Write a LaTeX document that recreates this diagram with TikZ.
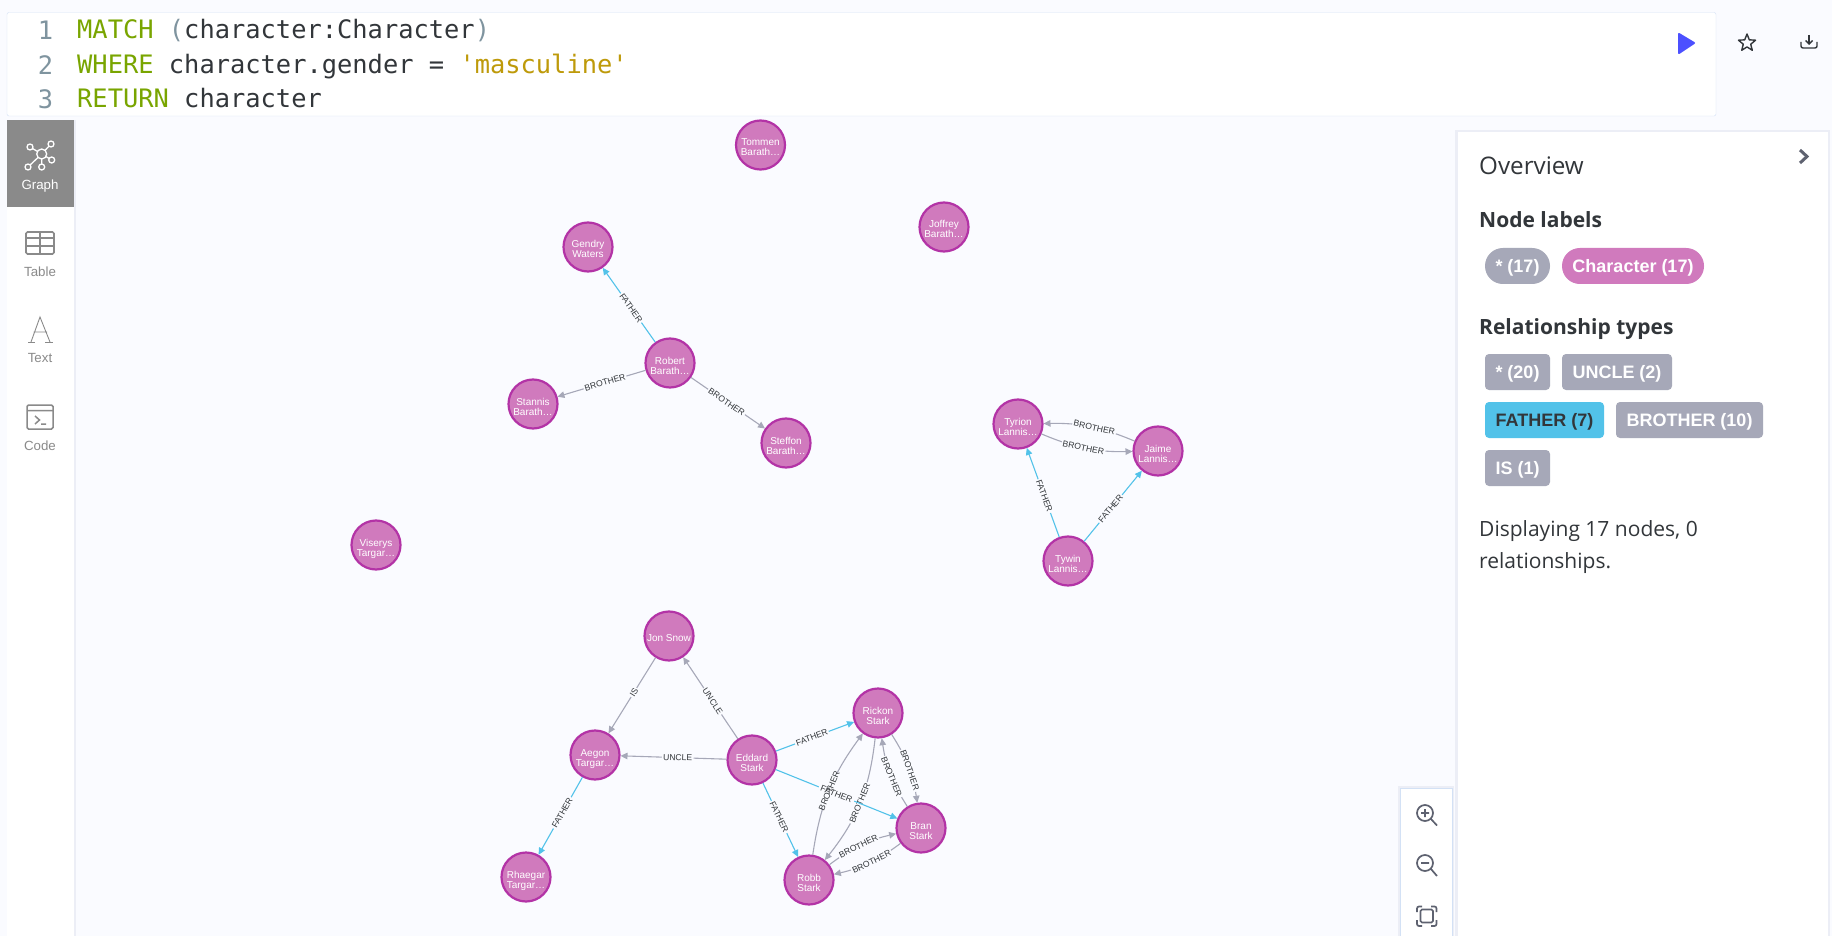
\documentclass[tikz,border=0pt]{standalone}
\usepackage{fontspec}
\setmainfont{Liberation Sans}
\newfontfamily\codefont{DejaVu Sans Mono}
\newfontfamily\panelfont{Open Sans}
\usetikzlibrary{arrows.meta,shapes.geometric}
\definecolor{pageBg}{HTML}{FAFBFF}
\definecolor{nodeFill}{HTML}{D07ABD}
\definecolor{nodeLine}{HTML}{B333A6}
\definecolor{fatherBlue}{HTML}{52C2E9}
\definecolor{relGrey}{HTML}{A6A8B8}
\definecolor{navGrey}{HTML}{8A8A8A}
\definecolor{frameBlue}{HTML}{D3E1F5}
\definecolor{shadowGrey}{HTML}{ECEEF6}
\definecolor{keyGreen}{HTML}{79A500}
\definecolor{stringGold}{HTML}{BE9A0A}
\definecolor{lineNum}{HTML}{7F949F}
\definecolor{inkDark}{HTML}{32363A}
\definecolor{iconGrey}{HTML}{5E6270}
\definecolor{playBlue}{HTML}{4C50FF}
\tikzstyle{charNode} = [draw=nodeLine,fill=nodeFill,circle,line width=2.2pt,minimum size=49pt,inner sep=0pt,outer sep=1pt,text=white,align=center,text height=22pt,text depth=0pt,font=\fontsize{10}{10}\selectfont]
\tikzstyle{fatherArrow} = [fatherBlue,line width=1.1pt,-{Triangle[length=7pt,width=6.5pt]}]
\tikzstyle{greyArrow} = [relGrey,line width=1.1pt,-{Triangle[length=7pt,width=6.5pt]}]
\tikzstyle{edgeLabel} = [sloped,fill=pageBg,inner sep=1.2pt,text=inkDark,font=\fontsize{8.6}{8.6}\selectfont]
\tikzstyle{edgeText} = [edgeLabel,fill=none]
\tikzstyle{edgeGap} = [sloped,fill=pageBg,inner sep=0pt,minimum width=38pt,minimum height=8pt]
\tikzstyle{codeLine} = [anchor=base west,inner sep=0pt,text=inkDark,font=\codefont\fontsize{25.4}{26}\selectfont]
\tikzstyle{numLine} = [anchor=base,inner sep=0pt,text=lineNum,font=\codefont\fontsize{25.4}{26}\selectfont]
\tikzstyle{navLabel} = [inner sep=0pt,text=navGrey,font=\fontsize{13.3}{14}\selectfont]
\tikzstyle{panelHead} = [anchor=base west,inner sep=0pt,text=inkDark,font=\panelfont\bfseries\fontsize{21}{21}\selectfont]
\tikzstyle{panelText} = [anchor=base west,inner sep=0pt,text=inkDark,font=\panelfont\fontsize{21}{21}\selectfont]
\tikzstyle{badge} = [fill=relGrey,minimum height=36pt,inner sep=0pt,text=white,text height=13pt,text depth=0pt,font=\bfseries\fontsize{18}{18}\selectfont]
\tikzstyle{pillBadge} = [badge,rounded corners=17.9pt]
\tikzstyle{typeBadge} = [badge,rounded corners=4pt]
\begin{document}
\begin{tikzpicture}[x=1pt,y=-1pt]
		\useasboundingbox (0,0) rectangle (1832,936);
		\fill[pageBg] (0,0) rectangle (1832,936);
		
		% editor
		\draw[frameBlue,fill=white,rounded corners=2pt] (7,12.5) rectangle (1716,116);
		\node[numLine] (num1) at (45.5,40) {1};
		\node[numLine] (num2) at (45.5,75) {2};
		\node[numLine] (num3) at (45.5,109) {3};
		\node[codeLine] (code1) at (77,39) {\textcolor{keyGreen}{MATCH} \textcolor{lineNum}{(}character:Character\textcolor{lineNum}{)}};
		\node[codeLine] (code2) at (77,74) {\textcolor{keyGreen}{WHERE} character.gender = \textcolor{stringGold}{'masculine'}};
		\node[codeLine] (code3) at (77,108) {\textcolor{keyGreen}{RETURN} character};
		\fill[playBlue,draw=playBlue,line width=2pt,line join=round] (1679,34) -- (1694,43) -- (1679,53) -- cycle;
		\node[star,star points=5,star point ratio=2.3,draw=inkDark,line width=1.4pt,line join=round,minimum size=18pt,inner sep=0pt] (fav) at (1747,43) {};
		\draw[inkDark,line width=1.4pt,-{Straight Barb[length=3.5pt,width=7pt]}] (1809,35) -- (1809,45);
		\draw[inkDark,line width=1.4pt,rounded corners=2pt] (1801,42) -- (1801,48) -- (1817,48) -- (1817,42);
		
		% side bar
		\fill[shadowGrey] (7,120) rectangle (76,936);
		\fill[white] (7,120) rectangle (74,936);
		\fill[navGrey] (7,120) rectangle (74,207);
		\draw[white,line width=1.3pt] (41.7,154) -- (30,147) (41.7,154) -- (51,144) (41.7,154) -- (51.7,160) (41.7,154) -- (41.7,167) (41.7,154) -- (28,167);
		\draw[white,line width=1.3pt,fill=navGrey] (41.7,154) circle (5pt) (30,147) circle (3pt) (51,144) circle (3pt) (51.7,160) circle (3pt) (41.7,167) circle (3pt) (28,167) circle (3pt);
		\node[navLabel,text=white] (graph) at (40,186) {Graph};
		\draw[navGrey,line width=1.6pt,rounded corners=1.5pt] (26,232) rectangle (54,254);
		\draw[navGrey,line width=1.6pt] (26,238) -- (54,238) (26,246) -- (54,246) (40,232) -- (40,254);
		\node[navLabel] (table) at (40,272) {Table};
		\draw[navGrey,line width=0.9pt] (31,342) -- (40,317) -- (50,342) (33.5,332) -- (47,332);
		\draw[navGrey,line width=0.9pt] (28,342) -- (35,342) (45,342) -- (53,342);
		\node[navLabel] (text) at (40,358) {Text};
		\draw[navGrey,line width=1.5pt,rounded corners=1.5pt] (27,405) rectangle (53,429);
		\draw[navGrey,line width=1.5pt] (27,410.5) -- (53,410.5) (35,416) -- (39.5,420) -- (35,424) (41,424) -- (46,424);
		\node[navLabel] (code) at (40,446) {Code};
		
		% overview panel
		\fill[shadowGrey] (1455,130) rectangle (1830,936);
		\fill[white] (1458,132) rectangle (1828,936);
		\node[panelText,font=\panelfont\fontsize{24.2}{24}\selectfont] (over) at (1479,175) {Overview};
		\draw[iconGrey,line width=3pt] (1800,150) -- (1807,156.5) -- (1800,163);
		\node[panelHead] (nodeHead) at (1479,228) {Node labels};
		\node[pillBadge,minimum width=65pt] (allNodes) at (1517.5,266) {* (17)};
		\node[pillBadge,minimum width=142pt,fill=nodeFill] (charBadge) at (1633,266) {Character (17)};
		\node[panelHead] (relHead) at (1479,334) {Relationship types};
		\node[typeBadge,minimum width=65pt] (allRel) at (1517.5,372) {* (20)};
		\node[typeBadge,minimum width=110pt] (uncleBadge) at (1617,372) {UNCLE (2)};
		\node[typeBadge,minimum width=119pt,fill=fatherBlue,text=inkDark] (fatherBadge) at (1544.5,420) {FATHER (7)};
		\node[typeBadge,minimum width=147pt] (brotherBadge) at (1689.5,420) {BROTHER (10)};
		\node[typeBadge,minimum width=65pt] (isBadge) at (1517.5,468) {IS (1)};
		\node[panelText] (disp1) at (1479,536) {Displaying 17 nodes, 0};
		\node[panelText] (disp2) at (1479,568) {relationships.};
		
		% zoom buttons
		\fill[shadowGrey] (1398,786) rectangle (1454,936);
		\draw[frameBlue,fill=white] (1400.5,788.5) rectangle (1452,940);
		\draw[iconGrey,line width=1.7pt] (1425,813) circle (8pt) (1431,819) -- (1437,825.5) (1421,813) -- (1429,813) (1425,809) -- (1425,817);
		\draw[iconGrey,line width=1.7pt] (1425,863) circle (8pt) (1431,869) -- (1437,876) (1421,863) -- (1429,863);
		\draw[iconGrey,line width=1.7pt,rounded corners=1.5pt] (1420.5,909.5) rectangle (1433,922.5);
		\draw[iconGrey,line width=1.7pt,rounded corners=2pt] (1417,912) -- (1417,906.5) -- (1422,906.5) (1431,906.5) -- (1436.5,906.5) -- (1436.5,912) (1436.5,920) -- (1436.5,926) -- (1431,926) (1422,926) -- (1417,926) -- (1417,920);
		
		% nodes
		\node[charNode] (tommen) at (760.5,145) {Tommen\\Barath…};
		\node[charNode] (joffrey) at (944,227) {Joffrey\\Barath…};
		\node[charNode] (gendry) at (588,247) {Gendry\\Waters};
		\node[charNode] (robert) at (670,363) {Robert\\Barath…};
		\node[charNode] (stannis) at (533,404) {Stannis\\Barath…};
		\node[charNode] (steffon) at (786,443) {Steffon\\Barath…};
		\node[charNode] (viserys) at (376,545) {Viserys\\Targar…};
		\node[charNode] (tyrion) at (1018,424) {Tyrion\\Lannis…};
		\node[charNode] (jaime) at (1158,451) {Jaime\\Lannis…};
		\node[charNode] (tywin) at (1068,561) {Tywin\\Lannis…};
		\node[charNode,text height=10pt] (jon) at (669,636) {Jon Snow};
		\node[charNode] (aegon) at (595,755) {Aegon\\Targar…};
		\node[charNode] (eddard) at (752,760) {Eddard\\Stark};
		\node[charNode] (rhaegar) at (526,877) {Rhaegar\\Targar…};
		\node[charNode] (rickon) at (878,713) {Rickon\\Stark};
		\node[charNode] (bran) at (921,828) {Bran\\Stark};
		\node[charNode] (robb) at (809,880) {Robb\\Stark};
		
		% 1st pass: draw arrows
		\draw[fatherArrow] (robert) to node[edgeLabel,pos=0.46] {FATHER} (gendry);
		\draw[greyArrow] (robert) to node[edgeLabel,pos=0.46] {BROTHER} (stannis);
		\draw[greyArrow] (robert) to node[edgeLabel,pos=0.48] {BROTHER} (steffon);
		\draw[greyArrow] (jaime) to[bend right=12] node[edgeLabel,pos=0.45] {BROTHER} (tyrion);
		\draw[greyArrow] (tyrion) to[bend right=12] node[edgeLabel,pos=0.47] {BROTHER} (jaime);
		\draw[fatherArrow] (tywin) to node[edgeLabel,pos=0.46] {FATHER} (tyrion);
		\draw[fatherArrow] (tywin) to node[edgeLabel,pos=0.46] {FATHER} (jaime);
		\draw[greyArrow] (jon) to node[edgeLabel,pos=0.46] {IS} (aegon);
		\draw[greyArrow] (eddard) to node[edgeLabel,pos=0.46] {UNCLE} (jon);
		\draw[greyArrow] (eddard) to node[edgeLabel,pos=0.46] {UNCLE} (aegon);
		\draw[fatherArrow] (aegon) to node[edgeLabel,pos=0.46] {FATHER} (rhaegar);
		\draw[fatherArrow] (eddard) to node[edgeLabel,pos=0.46] {FATHER} (rickon);
		\draw[fatherArrow] (eddard) to node[edgeLabel,pos=0.46] {FATHER} (robb);
		\draw[greyArrow] (rickon) to[bend left=16] node[edgeLabel] {BROTHER} (robb);
		\draw[greyArrow] (rickon) to[bend left=12] node[edgeLabel,pos=0.55] {BROTHER} (bran);
		\draw[greyArrow] (bran) to[bend left=12] node[edgeLabel,pos=0.45] {BROTHER} (rickon);
		\draw[greyArrow] (robb) to[bend left=12] node[edgeLabel,pos=0.46] {BROTHER} (bran);
		\draw[greyArrow] (bran) to[bend left=12] node[edgeLabel,pos=0.46] {BROTHER} (robb);
		\draw[fatherArrow] (eddard) to node[edgeGap] {} (bran);
		\draw[greyArrow] (robb) to[bend left=14] node[edgeGap] {} (rickon);
		
		% 2nd pass: the two labels that cross each other, without a fill
		\path (eddard) to node[edgeText] {FATHER} (bran);
		\path (robb) to[bend left=14] node[edgeText] {BROTHER} (rickon);
\end{tikzpicture}
\end{document}
